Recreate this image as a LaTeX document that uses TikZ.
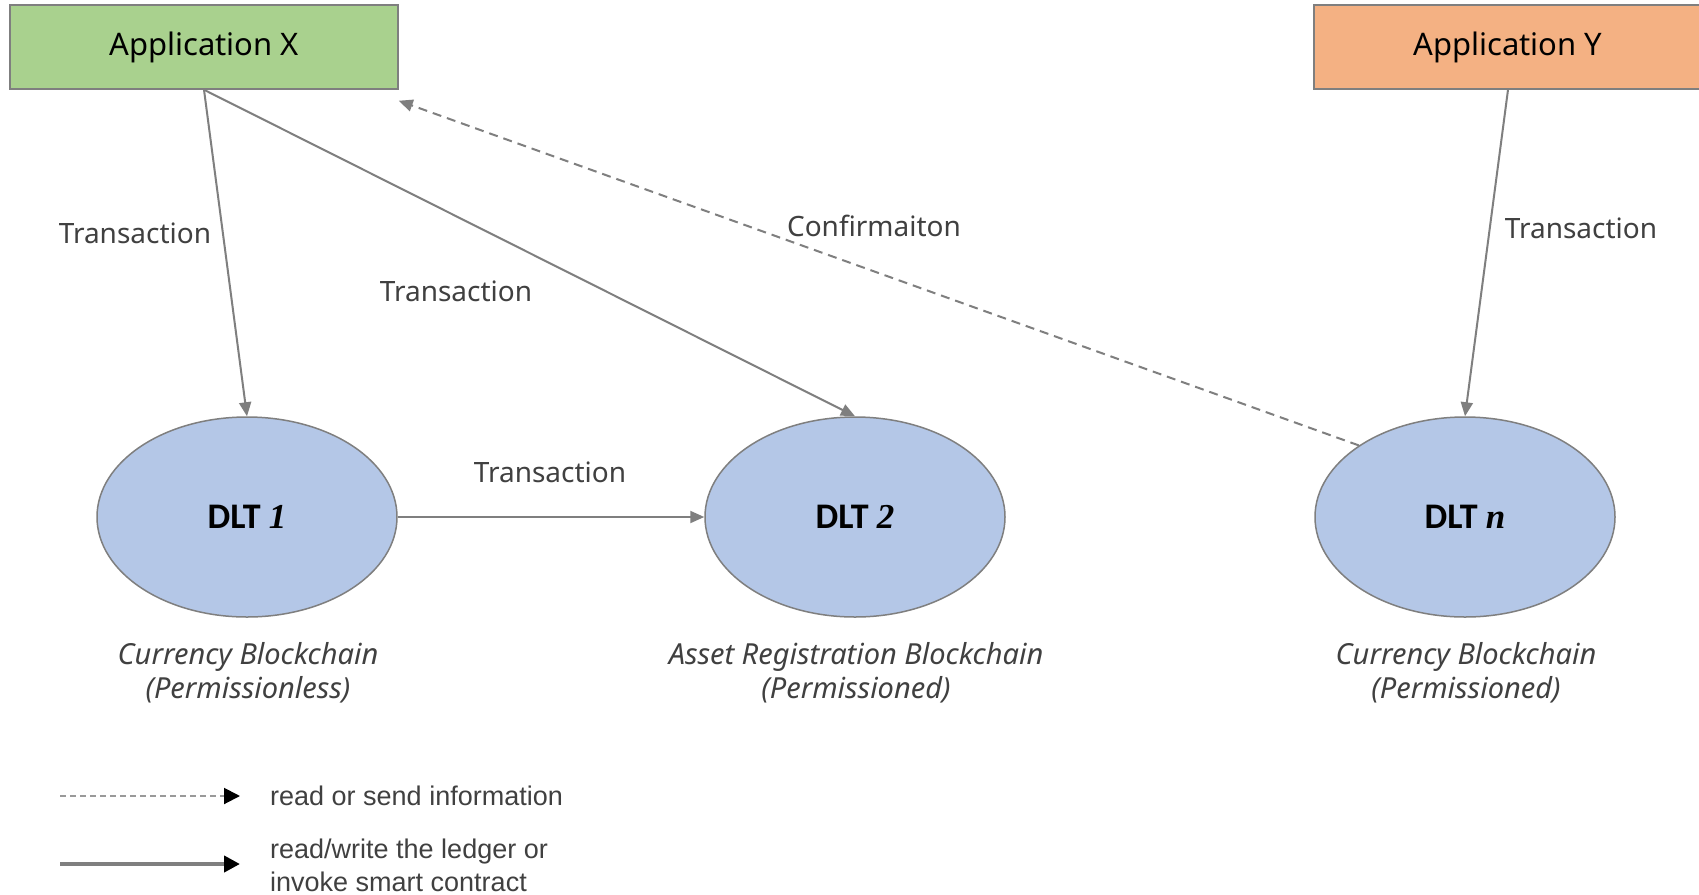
\documentclass[tikz,border=0pt]{standalone}
\usepackage{fontspec}
\setmainfont{Noto Sans}
\newfontfamily\dltfont{Carlito}
\newfontfamily\numfont{Liberation Serif}
\newfontfamily\legfont{Liberation Sans}
\usetikzlibrary{arrows.meta,shapes.geometric}
\definecolor{appgreen}{HTML}{A9D18E}
\definecolor{apporange}{HTML}{F4B183}
\definecolor{dltblue}{HTML}{B4C7E7}
\definecolor{edgegray}{HTML}{7F7F7F}
\definecolor{textgray}{HTML}{404040}
\tikzset{
  appbox/.style={draw=edgegray, line width=1.5pt, minimum width=388pt, minimum height=84pt, inner sep=0pt, font=\fontsize{31}{36}\selectfont},
  dltnode/.style={ellipse, draw=edgegray, line width=1.5pt, fill=dltblue, minimum width=300pt, minimum height=200pt, inner sep=0pt},
  flow/.style={draw=edgegray, line width=2pt, -{Triangle[length=14pt,width=12pt]}},
  info/.style={draw=edgegray, line width=2pt, dash pattern=on 9pt off 6pt, -{Triangle[length=14pt,width=12pt]}},
  lbl/.style={text=textgray, font=\fontsize{28}{32}\selectfont, inner sep=0pt},
  captext/.style={text=textgray, font=\fontsize{29}{34}\selectfont\itshape, align=center, inner sep=0pt},
  legtext/.style={text=textgray, font=\legfont\fontsize{27}{33}\selectfont, align=left, inner sep=0pt, anchor=west}
}
\newcommand{\dltlabel}[1]{{\dltfont\bfseries\fontsize{36}{40}\selectfont DLT }{\numfont\bfseries\itshape\fontsize{35}{40}\selectfont #1}}
\begin{document}
\begin{tikzpicture}[x=1pt,y=-1pt]
\useasboundingbox (0,0) rectangle (1699,894);
\fill[white] (0,0) rectangle (1699,894);
% application boxes
\node[appbox, fill=appgreen] (appx) at (204,47) {Application X};
\node[appbox, fill=apporange] (appy) at (1508,47) {Application Y};
% DLT ellipses
\node[dltnode] (dlt1) at (247,517) {\dltlabel{1}};
\node[dltnode] (dlt2) at (855,517) {\dltlabel{2}};
\node[dltnode] (dltn) at (1465,517) {\dltlabel{n}};
% captions
\node[captext] (cap1) at (248,673) {Currency Blockchain\\(Permissionless)};
\node[captext] (cap2) at (856,673) {Asset Registration Blockchain\\(Permissioned)};
\node[captext] (capn) at (1466,673) {Currency Blockchain\\(Permissioned)};
% connectors
\draw[flow] (appx.south) -- (dlt1.north);
\draw[flow] (appx.south) -- (dlt2.north);
\draw[flow] (dlt1.east) -- (dlt2.west);
\draw[flow] (appy.south) -- (dltn.north);
\coordinate (cfend) at ([yshift=-11pt]appx.south east);
\draw[info] (dltn.146) -- (cfend);
% connector labels
\node[lbl] (t1) at (135,233) {Transaction};
\node[lbl] (t2) at (456,291) {Transaction};
\node[lbl] (t3) at (550,472) {Transaction};
\node[lbl] (cf) at (874,226) {Confirmaiton};
\node[lbl] (t4) at (1581,228) {Transaction};
% legend
\coordinate (l1a) at (60,796);
\coordinate (l1b) at (240,796);
\coordinate (l2a) at (60,864);
\coordinate (l2b) at (240,864);
\draw[draw=edgegray!80, line width=2pt, dash pattern=on 6pt off 4pt, -{Triangle[length=16pt,width=16pt,color=black,fill=black]}] (l1a) -- (l1b);
\draw[draw=edgegray, line width=4pt, -{Triangle[length=16pt,width=16pt,color=black,fill=black]}] (l2a) -- (l2b);
\node[legtext] (legt1) at (270,796) {read or send information};
\node[legtext] (legt2) at (270,865) {read/write the ledger or\\invoke smart contract};
\end{tikzpicture}
\end{document}
